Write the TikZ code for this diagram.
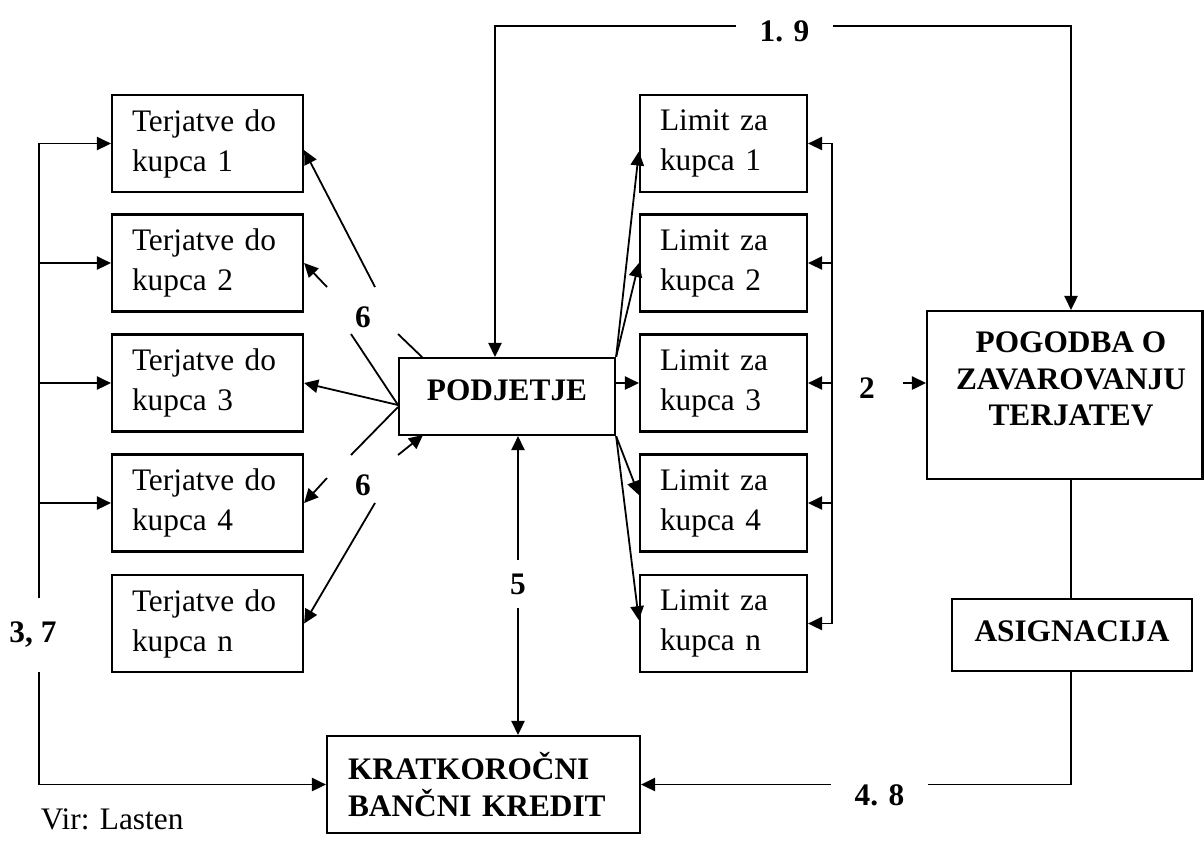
\documentclass[tikz,border=0pt]{standalone}
\usepackage{fontspec}
\setmainfont{Liberation Serif}
\usetikzlibrary{arrows.meta,calc}

\newcommand\bxfont{\fontsize{23.5}{30}\selectfont}
\newcommand\hdfont{\fontsize{23.5}{27.5}\selectfont\bfseries}

\begin{document}
\begin{tikzpicture}[x=0.75pt,y=-0.75pt,
  line width=1.35pt,
  tip/.style={-{Triangle[length=10.5pt,width=10pt]}},
  dtip/.style={{Triangle[length=10.5pt,width=10pt]}-{Triangle[length=10.5pt,width=10pt]}},
  frame/.style={draw,line width=1.7pt},
  tbox/.style={frame,minimum height=72.75pt,inner xsep=15pt,inner ysep=0pt,
    text width=113.25pt,align=left,font=\bxfont},
  lbox/.style={tbox,text width=95.25pt},
  lab/.style={font=\hdfont,inner sep=3pt},
  cover/.style={lab,fill=white}]

\useasboundingbox (0,0) rectangle (1204,844);

% receivables per buyer
\node[tbox] (T1) at (207.5,143.5) {Terjatve do\\kupca 1};
\node[tbox] (T2) at (207.5,263)   {Terjatve do\\kupca 2};
\node[tbox] (T3) at (207.5,383)   {Terjatve do\\kupca 3};
\node[tbox] (T4) at (207.5,503)   {Terjatve do\\kupca 4};
\node[tbox] (Tn) at (207.5,623.5) {Terjatve do\\kupca n};

% limits per buyer
\node[lbox] (L1) at (723.5,143.5) {Limit za\\kupca 1};
\node[lbox] (L2) at (723.5,263)   {Limit za\\kupca 2};
\node[lbox] (L3) at (723.5,383)   {Limit za\\kupca 3};
\node[lbox] (L4) at (723.5,503)   {Limit za\\kupca 4};
\node[lbox] (Ln) at (723.5,623.5) {Limit za\\kupca n};

% main parties
\node[frame,minimum width=162pt,minimum height=57.75pt,font=\hdfont,text depth=10pt]
  (P) at (507,396.5) {PODJETJE};
\node[frame,minimum width=206.6pt,minimum height=126pt] (G) at (1064.75,395) {};
\node[font=\hdfont,align=center,inner sep=0pt] (Gt) at (1071,379)
  {POGODBA O\\ZAVAROVANJU\\TERJATEV};
\node[frame,minimum width=180pt,minimum height=54pt,font=\hdfont,text depth=6pt]
  (A) at (1072,635) {ASIGNACIJA};
\node[frame,minimum height=72.75pt,inner xsep=15.75pt,inner ysep=0pt,
  text width=203.25pt,align=left,font=\hdfont]
  (K) at (483.5,784.5) {KRATKOROČNI\\BANČNI KREDIT};

% guide coordinates
\coordinate (lx) at (39,0);
\coordinate (bx) at (832,0);
\coordinate (vx) at (518,0);
\coordinate (tl) at (495,26);
\coordinate (tr) at (1071,26);
\coordinate (a2) at (903,383);
\coordinate (cv) at (398,405);
\coordinate (cw) at (398,407);
\coordinate (pa) at (423,358);
\coordinate (pb) at (423,435);
\coordinate (s1) at (398,334);
\coordinate (s2) at (375,287);
\coordinate (s3) at (351,334);
\coordinate (s4) at (327,287);
\coordinate (s5) at (351,455);
\coordinate (s6) at (327,478);
\coordinate (s7) at (398,455);
\coordinate (s8) at (375,503);

% left collector line (3, 7)
\draw[dtip] (T1.west) -- (T1.west -| lx) -- (lx |- K.west) -- (K.west);
\foreach \b in {T2,T3,T4} \draw[tip] (\b.west -| lx) -- (\b.west);

% right collector line to the limits
\draw[dtip] (L1.east) -- (L1.east -| bx) -- (Ln.east -| bx) -- (Ln.east);
\foreach \b in {L2,L3,L4} \draw[tip] (\b.east -| bx) -- (\b.east);
\draw[tip] (a2) -- (a2 -| G.west);

% company to limits
\draw[tip] (P.north east) -- ([yshift=-6pt]L1.west);
\draw[tip] (P.north east) -- (L2.west);
\draw[tip] (P.east |- L3.west) -- (L3.west);
\draw[tip] (P.south east) -- ([yshift=6pt]L4.west);
\draw[tip] (P.south east) -- ([yshift=2.5pt]Ln.west);

% company and receivables (6), broken where the labels sit
\draw[tip] (pa) -- (s1) (s2) -- ([yshift=-5pt]T1.east);
\draw[tip] (cv) -- (s3) (s4) -- (T2.east);
\draw[tip] (cv) -- (T3.east);
\draw[tip] (cw) -- (s5) (s6) -- (T4.east);
\draw[tip] (s7) -- (pb);
\draw[tip] (s8) -- (Tn.east);

% contract loop (1. 9)
\draw[dtip] (P.north -| tl) -- (tl) -- (tr) -- (tr |- G.north);

% contract, assignment, bank credit (4. 8)
\draw (G.south -| tr) -- (A.north -| tr);
\draw[tip] (A.south -| tr) -- (tr |- K.east) -- (K.east);

% company and bank credit (5)
\draw[dtip] (P.south -| vx) -- (K.north -| vx);

% step labels
\node[cover,minimum width=72.75pt] (l19) at (784.5,31) {1. 9};
\node[cover,minimum width=72.75pt,minimum height=30pt] (l48) at (879.5,795) {4. 8};
\node[cover,minimum height=55.5pt] (l37) at (33,635) {3, 7};
\node[cover,minimum height=36pt] (l5) at (518,584) {5};
\node[lab] (l2) at (867,388) {2};
\node[lab] (l6a) at (363,317) {6};
\node[lab] (l6b) at (363,485) {6};

\node[anchor=base west,font=\bxfont,inner sep=0pt] (vir) at (40,829) {Vir: Lasten};
\end{tikzpicture}
\end{document}
